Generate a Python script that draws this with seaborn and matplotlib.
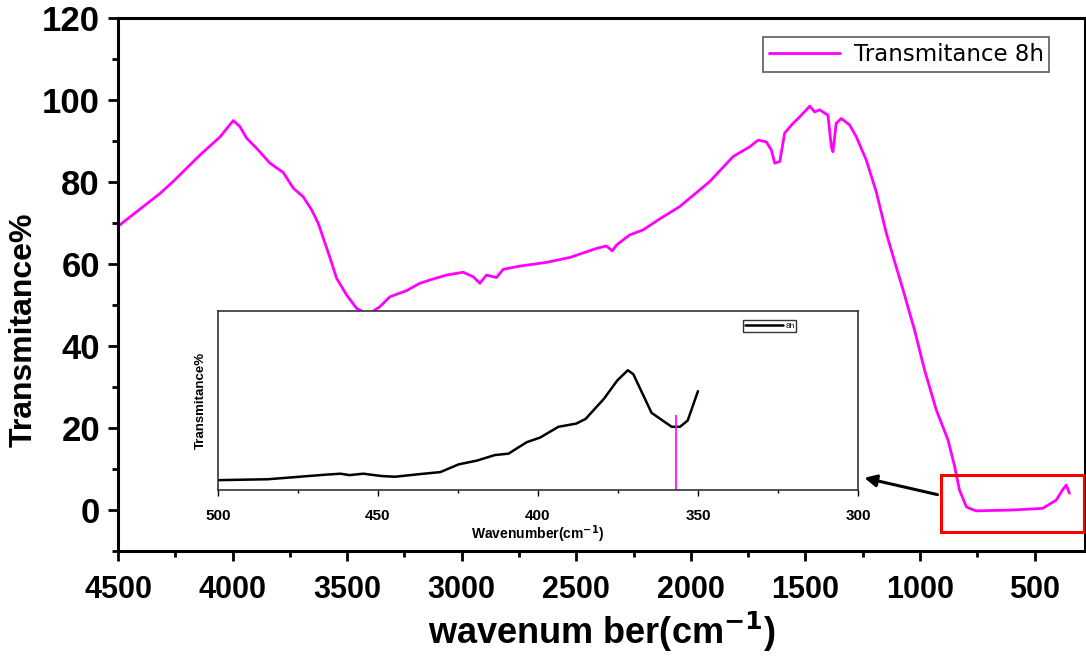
import matplotlib
matplotlib.use("Agg")
import matplotlib.pyplot as plt
from matplotlib.patches import Rectangle
from matplotlib.ticker import MultipleLocator
import seaborn as sns

# FTIR spectrum, 8 h sample
wavenumber = [4500, 4317, 4260, 4142, 4055, 3997, 3968, 3939, 3895, 3837, 3779, 3735,
              3692, 3655, 3626, 3575, 3546, 3502, 3459, 3408, 3357, 3314, 3241, 3183,
              3139, 3067, 2994, 2950, 2921, 2892, 2849, 2819, 2746, 2630, 2528, 2412,
              2369, 2343, 2325, 2267, 2209, 2136, 2049, 1918, 1816, 1743, 1707, 1671,
              1649, 1634, 1612, 1591, 1561, 1525, 1481, 1460, 1438, 1402, 1387, 1380,
              1366, 1344, 1307, 1278, 1235, 1191, 1147, 1104, 1074, 1024, 980, 929,
              878, 849, 828, 798, 784, 755, 596, 465, 406, 378, 362, 348]
transmittance = [69.2, 77.2, 80.1, 86.6, 91.0, 95.0, 93.5, 90.7, 88.2, 84.6, 82.3, 78.5,
                 76.4, 73.2, 69.9, 61.5, 56.5, 52.4, 49.2, 47.7, 49.6, 52.0, 53.5, 55.3,
                 56.1, 57.3, 58.0, 56.9, 55.3, 57.3, 56.7, 58.7, 59.5, 60.4, 61.6, 63.8,
                 64.4, 63.2, 64.6, 67.1, 68.3, 71.0, 74.0, 80.1, 86.2, 88.6, 90.2, 89.8,
                 87.8, 84.6, 85.0, 91.9, 93.9, 95.9, 98.5, 97.1, 97.6, 96.3, 88.6, 87.4,
                 94.3, 95.5, 93.9, 91.0, 85.4, 77.6, 67.5, 59.3, 53.7, 43.9, 34.1, 24.4,
                 17.1, 10.6, 4.9, 0.8, 0.4, -0.2, 0.0, 0.4, 2.4, 4.9, 6.1, 4.1]

# low-wavenumber region (500-350 cm-1), relative transmittance
inset_wavenumber = [500, 484.4, 474.5, 466, 461.7, 458.9, 454.6, 448.9, 444.7, 436.2,
                    430.5, 424.8, 419.1, 413.5, 409.2, 403.5, 399.3, 393.6, 388, 385.1,
                    379.4, 375.2, 371.9, 370.2, 364.5, 358.2, 355.6, 353.2, 350]
inset_transmittance = [0.55, 0.60, 0.74, 0.86, 0.91, 0.83, 0.91, 0.78, 0.74, 0.90,
                       1.00, 1.43, 1.64, 1.95, 2.03, 2.67, 2.93, 3.53, 3.71, 3.97,
                       5.09, 6.12, 6.69, 6.47, 4.31, 3.53, 3.53, 3.88, 5.52]
marker_wavenumber = 357
marker_height = 4.2

main_label = "Transmitance 8h"
inset_label = "8h"
magenta = "#FF00FF"

sns.set_style("ticks")
plt.rcParams["font.family"] = ["Liberation Sans", "DejaVu Sans"]
plt.rcParams.update({"text.color": "black", "axes.labelcolor": "black",
                     "xtick.color": "black", "ytick.color": "black"})

fig = plt.figure(figsize=(10.86, 6.57), dpi=100)
ax = fig.add_axes([0.1087, 0.1613, 0.8904, 0.8113])

sns.lineplot(x=wavenumber, y=transmittance, ax=ax, color=magenta, linewidth=2.0,
             label=main_label)

ax.set_xlim(4500, 280)
ax.set_ylim(-10, 120)
ax.xaxis.set_major_locator(MultipleLocator(500))
ax.xaxis.set_minor_locator(MultipleLocator(250))
ax.yaxis.set_major_locator(MultipleLocator(20))
ax.yaxis.set_minor_locator(MultipleLocator(10))
ax.tick_params(axis="both", which="major", direction="out", length=7, width=2,
               top=False, right=False, colors="black")
ax.tick_params(axis="both", which="minor", direction="out", length=4, width=2,
               top=False, right=False, colors="black")
ax.tick_params(axis="x", labelsize=22, pad=10)
ax.tick_params(axis="y", labelsize=25, pad=6)
for lbl in ax.get_xticklabels() + ax.get_yticklabels():
    lbl.set_fontweight("bold")
for side in ["left", "bottom", "top", "right"]:
    ax.spines[side].set_visible(True)
    ax.spines[side].set_linewidth(2.2)
    ax.spines[side].set_color("black")

ax.set_xlabel("wavenum ber(cm$^{\\mathbf{-1}}$)", fontsize=26, fontweight="bold",
              labelpad=4, color="black")
ax.set_ylabel("Transmitance%", fontsize=23, fontweight="bold", color="black")
ax.yaxis.set_label_coords(-0.082, 0.415)

leg = ax.legend(loc="upper right", bbox_to_anchor=(0.975, 0.985),
                prop={"family": "DejaVu Sans", "size": 16.5},
                frameon=True, fancybox=False, handlelength=3.1, borderpad=0.25,
                handletextpad=0.6)
leg.get_frame().set_edgecolor("#333333")
leg.get_frame().set_linewidth(1.2)

# highlighted low-wavenumber region and pointer to the inset
ax.add_patch(Rectangle((286, -5.4), 910 - 286, 13.9, fill=False,
                       edgecolor="red", linewidth=2.2, zorder=5))
ax.annotate("", xy=(1255, 8.0), xytext=(912, 3.6),
            arrowprops=dict(arrowstyle="-|>", color="black", lw=2.2,
                            mutation_scale=18))

# inset
axi = fig.add_axes([0.2007, 0.2542, 0.5893, 0.2725])
sns.lineplot(x=inset_wavenumber, y=inset_transmittance, ax=axi, color="black",
             linewidth=1.8, label=inset_label)
axi.vlines(marker_wavenumber, 0, marker_height, color=magenta, linewidth=1.2)
axi.set_xlim(500, 300)
axi.set_ylim(0, 10)
axi.xaxis.set_major_locator(MultipleLocator(50))
axi.xaxis.set_minor_locator(MultipleLocator(25))
axi.set_yticks([])
axi.tick_params(axis="x", which="major", direction="out", length=4, width=1,
                labelsize=11, pad=10, colors="black")
axi.tick_params(axis="x", which="minor", direction="out", length=2.5, width=1,
                colors="black")
for lbl in axi.get_xticklabels():
    lbl.set_fontweight("bold")
for side in ["left", "bottom", "top", "right"]:
    axi.spines[side].set_visible(True)
    axi.spines[side].set_color("#333333")
    axi.spines[side].set_linewidth(1.2)
axi.set_xlabel("Wavenumber(cm$^{\\mathbf{-1}}$)", fontsize=10, fontweight="bold",
               labelpad=0, color="black")
axi.set_ylabel("Transmitance%", fontsize=9.5, fontweight="bold", labelpad=8,
               color="black")
lg2 = axi.legend(loc="upper right", bbox_to_anchor=(0.91, 0.97), fontsize=6,
                 frameon=True, fancybox=False, handlelength=4.5, borderpad=0.2,
                 handletextpad=0.3)
lg2.get_frame().set_edgecolor("black")
lg2.get_frame().set_linewidth(1.0)

fig.savefig("out.png", dpi=100)
